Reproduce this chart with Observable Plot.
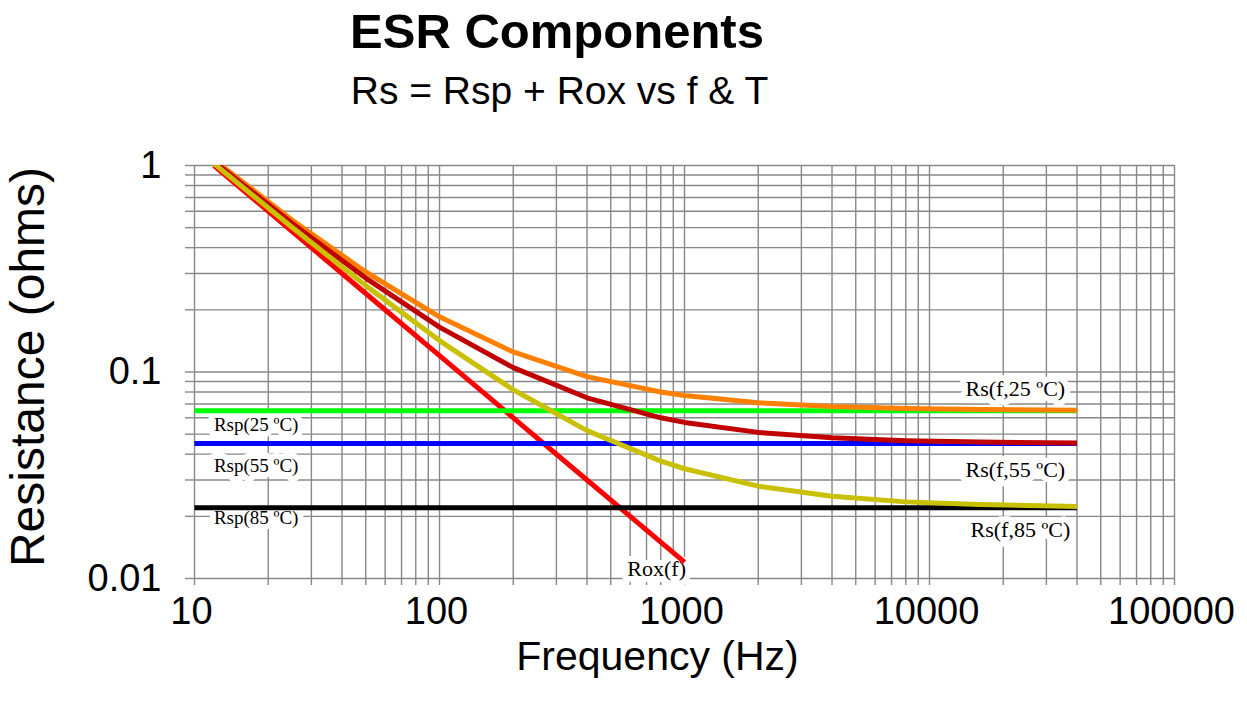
<!DOCTYPE html>
<html>
<head>
<meta charset="utf-8">
<script src="https://cdn.jsdelivr.net/npm/d3@7"></script>
<script src="https://cdn.jsdelivr.net/npm/@observablehq/plot@0.6"></script>
<style>
  body { margin: 0; background: #fff; }
  #chart { width: 1247px; height: 705px; }
</style>
</head>
<body>
<div id="chart"></div>
<script>
// ---- data ----
const freqs = [12, 25, 50, 100, 200, 400, 800, 1000, 2000, 4000, 8000, 16000, 40000];
const rs25 = [1.065, 0.545, 0.305, 0.185, 0.125, 0.095, 0.080, 0.077, 0.071, 0.068, 0.0665, 0.0658, 0.0653];
const rs55 = [1.045, 0.525, 0.285, 0.165, 0.105, 0.075, 0.060, 0.057, 0.051, 0.048, 0.0465, 0.0458, 0.0453];
const rs85 = [1.022, 0.502, 0.262, 0.142, 0.082, 0.052, 0.037, 0.034, 0.028, 0.025, 0.0235, 0.0228, 0.0223];
const roxFreqs = [12, 25, 50, 100, 200, 400, 800, 1000];
const rox = [1, 0.48, 0.24, 0.12, 0.06, 0.03, 0.015, 0.012];
const rspFreqs = [10, 40000];
const rspNames = ["Rsp25", "Rsp55", "Rsp85"];
const rspValues = [0.065, 0.045, 0.022];

const labelText = ["Rsp(25 ºC)", "Rsp(55 ºC)", "Rsp(85 ºC)", "Rox(f)", "Rs(f,25 ºC)", "Rs(f,55 ºC)", "Rs(f,85 ºC)"];
const labelX = [12, 12, 12, 770, 22400, 22400, 23500];
const labelY = [0.0552, 0.0352, 0.0197, 0.0111, 0.0832, 0.0334, 0.0171];
const labelAnchor = ["start", "start", "start", "middle", "middle", "middle", "middle"];
const labelSize = [19, 19, 19, 22, 22, 22, 22];

const titleText = "ESR Components";
const subtitleText = "Rs = Rsp + Rox vs f & T";
const xLabel = "Frequency (Hz)";
const yLabel = "Resistance (ohms)";

const xMajor = [10, 100, 1000, 10000, 100000];
const yMajor = [0.01, 0.1, 1];
const mult = [1, 2, 3, 4, 5, 6, 7, 8, 9];

// ---- build tables ----
const xGrid = xMajor.slice(0, -1).flatMap(d => mult.map(m => d * m)).concat([100000]);
const yGrid = yMajor.slice(0, -1).flatMap(d => mult.map(m => d * m)).concat([1]);

const colors = {Rox: "#ff0000", Rsp25: "#00ff00", Rsp55: "#0000ff", Rsp85: "#000000",
                Rs25: "#ff8000", Rs55: "#c00000", Rs85: "#c8c000"};

const rows = [];
roxFreqs.forEach((f, i) => rows.push({series: "Rox", f, r: rox[i]}));
rspNames.forEach((s, k) => rspFreqs.forEach(f => rows.push({series: s, f, r: rspValues[k]})));
freqs.forEach((f, i) => rows.push({series: "Rs25", f, r: rs25[i]}));
freqs.forEach((f, i) => rows.push({series: "Rs55", f, r: rs55[i]}));
freqs.forEach((f, i) => rows.push({series: "Rs85", f, r: rs85[i]}));
const order = ["Rox", "Rsp25", "Rsp55", "Rsp85", "Rs25", "Rs55", "Rs85"];

const labels = labelText.map((t, i) => ({t, x: labelX[i], y: labelY[i], a: labelAnchor[i], s: labelSize[i]}));

const gridColor = "#888888";
const serif = "'Liberation Serif', 'Times New Roman', serif";

const plot = Plot.plot({
  width: 1247,
  height: 705,
  marginLeft: 194,
  marginRight: 73,
  marginTop: 165,
  marginBottom: 127,
  style: {fontFamily: "'Liberation Sans', Arial, sans-serif", background: "white", color: "black"},
  x: {type: "log", domain: [10, 100000]},
  y: {type: "log", domain: [0.01, 1]},
  marks: [
    Plot.gridX(xGrid, {stroke: gridColor, strokeOpacity: 1, strokeWidth: 1.4}),
    Plot.gridY(yGrid, {stroke: gridColor, strokeOpacity: 1, strokeWidth: 1.4}),
    Plot.axisX(xGrid, {tickSize: 7, tickFormat: () => "", stroke: gridColor, strokeWidth: 1.4, label: null}),
    Plot.axisY(yGrid, {tickSize: 9, tickFormat: () => "", stroke: gridColor, strokeWidth: 1.4, label: null}),
    Plot.axisX(xMajor, {tickSize: 0, tickPadding: 19, dx: -3, fontSize: 38, tickFormat: d => String(d), label: null}),
    Plot.axisY(yMajor, {tickSize: 0, tickPadding: 33, fontSize: 38, tickFormat: d => String(d), label: null}),
    ...labels.map(d => Plot.text([d], {x: "x", y: "y", text: "t", textAnchor: d.a,
      fontFamily: serif, fontSize: d.s, fill: "black", stroke: "white", strokeWidth: 12})),
    ...order.map(s => Plot.line(rows.filter(d => d.series === s), {
      x: "f", y: "r", stroke: colors[s], strokeWidth: 5, strokeLinecap: "butt", strokeLinejoin: "round", clip: true
    })),
    Plot.text([xLabel], {frameAnchor: "bottom", dy: 78, dx: -27, fontSize: 41, lineAnchor: "middle", fill: "black"}),
    Plot.text([yLabel], {frameAnchor: "left", textAnchor: "middle", rotate: -90, dx: -166, dy: -5, fontSize: 48, lineAnchor: "middle", fill: "black"}),
    Plot.text([titleText], {frameAnchor: "top", dx: -127.5, dy: 32 - 165, fontSize: 49, fontWeight: "bold", lineAnchor: "middle", fill: "black"}),
    Plot.text([subtitleText], {frameAnchor: "top", dx: -125, dy: 91.5 - 165, fontSize: 39, lineAnchor: "middle", fill: "black"})
  ]
});
document.getElementById("chart").appendChild(plot);
</script>
</body>
</html>
